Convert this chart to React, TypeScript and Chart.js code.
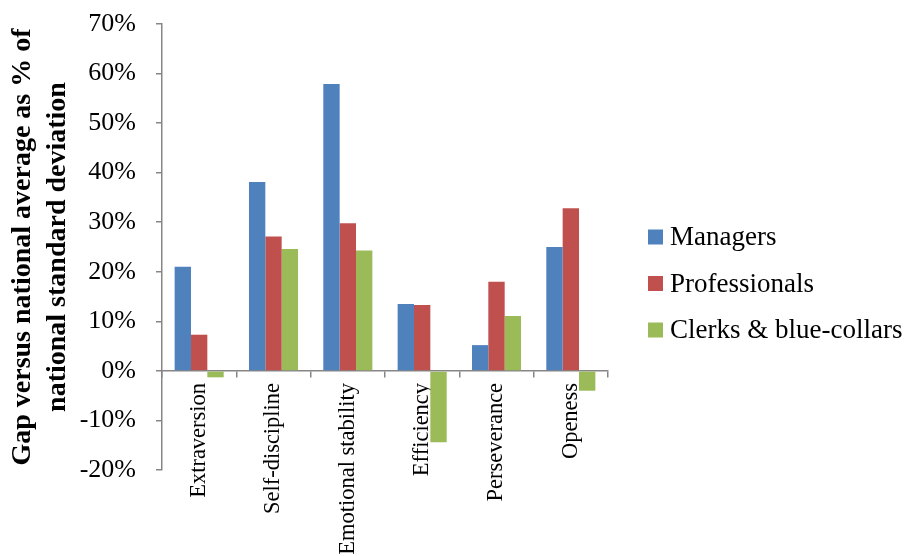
import React, { useEffect, useRef } from "react";
import { Chart, registerables } from "chart.js";

Chart.register(...registerables);

const categories = ["Extraversion", "Self-discipline", "Emotional stability", "Efficiency", "Perseverance", "Openess"];
const managers = [21.0, 38.1, 57.9, 13.5, 5.2, 25.0];
const professionals = [7.3, 27.1, 29.8, 13.3, 18.0, 32.8];
const clerks = [-1.3, 24.6, 24.3, -14.4, 11.1, -4.0];
const seriesNames = ["Managers", "Professionals", "Clerks & blue-collars"];
const seriesColors = ["#4F81BD", "#C0504D", "#9BBB59"];
const yTitle = ["Gap versus national average as % of", "national standard deviation"];

const serif = "'Liberation Serif', 'Times New Roman', serif";
const axisGray = "#868686";

const sideLegend = {
  id: "sideLegend",
  afterDraw(chart: any) {
    const ctx = chart.ctx;
    ctx.save();
    ctx.font = `27px ${serif}`;
    ctx.textBaseline = "middle";
    ctx.textAlign = "left";
    chart.data.datasets.forEach((ds: any, i: number) => {
      const cy = 237 + i * 46.5;
      ctx.fillStyle = ds.backgroundColor;
      ctx.fillRect(648, cy - 7.5, 15, 15);
      ctx.fillStyle = "#000";
      ctx.fillText(ds.label, 670, cy + 1);
    });
    ctx.restore();
  },
};

export default function App() {
  const ref = useRef<HTMLCanvasElement>(null);
  useEffect(() => {
    if (!ref.current) return;
    const data = [managers, professionals, clerks];
    const chart = new Chart(ref.current, {
      type: "bar",
      data: {
        labels: categories,
        datasets: seriesNames.map((name, i) => ({
          label: name,
          data: data[i],
          backgroundColor: seriesColors[i],
          borderWidth: 0,
          categoryPercentage: 0.66,
          barPercentage: 1,
        })),
      },
      options: {
        animation: false,
        responsive: false,
        maintainAspectRatio: false,
        layout: { padding: { left: 0, top: 24, right: 299, bottom: 86 } },
        plugins: { legend: { display: false }, tooltip: { enabled: false } },
        scales: {
          x: {
            position: { y: 0 } as any,
            grid: {
              display: true,
              drawOnChartArea: false,
              drawTicks: true,
              tickLength: 6,
              color: axisGray,
              lineWidth: 1.5,
              offset: true,
            },
            border: { display: true, color: axisGray, width: 1.5 },
            ticks: {
              autoSkip: false,
              maxRotation: 90,
              minRotation: 90,
              padding: 6,
              color: "#000",
              font: { family: serif, size: 22.5 },
            },
          },
          y: {
            min: -20,
            max: 70,
            afterFit: (s: any) => {
              s.width = 162;
              s.paddingTop = 0;
              s.paddingBottom = 0;
            },
            grid: {
              display: true,
              drawOnChartArea: false,
              drawTicks: true,
              tickLength: 6,
              color: axisGray,
              lineWidth: 1.5,
            },
            border: { display: true, color: axisGray, width: 1.5 },
            ticks: {
              stepSize: 10,
              padding: 20,
              color: "#000",
              font: { family: serif, size: 26 },
              callback: (v: any) => `${v}%`,
            },
            title: {
              display: true,
              text: yTitle,
              color: "#000",
              font: { family: serif, size: 28, weight: "bold", lineHeight: 1.25 },
              padding: { top: 5, bottom: 0 },
            },
          },
        },
      },
      plugins: [sideLegend],
    });
    return () => chart.destroy();
  }, []);
  return (
    <div style={{ position: "absolute", left: 0, top: 0, width: 907, height: 556, background: "#fff" }}>
      <canvas ref={ref} width={907} height={556} style={{ display: "block" }} />
    </div>
  );
}
